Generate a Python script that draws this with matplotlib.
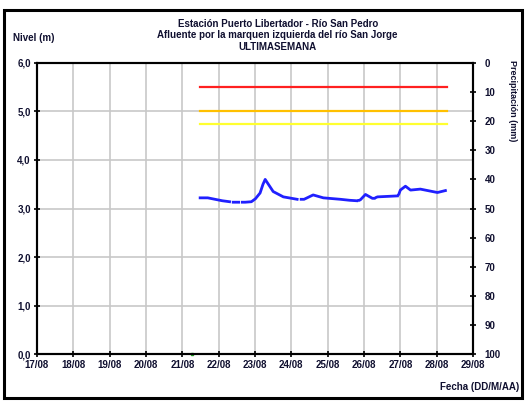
import numpy as np
import matplotlib
matplotlib.use("Agg")
import matplotlib.pyplot as plt
from matplotlib.patches import Rectangle

# Data (days since 17/08 00:00); NaN = missing readings
date_labels = ["17/08", "18/08", "19/08", "20/08", "21/08", "22/08", "23/08",
               "24/08", "25/08", "26/08", "27/08", "28/08", "29/08"]
level_t = [4.49, 4.70, 4.90, 5.10, 5.30, 5.35, 5.40, 5.55, 5.60, 5.65, 5.73, 5.90,
           6.01, 6.14, 6.22, 6.28, 6.35, 6.50, 6.78, 7.16, 7.22, 7.27, 7.35, 7.60,
           7.88, 8.35, 8.60, 8.80, 8.84, 8.87, 8.90, 9.04, 9.23, 9.28, 9.31, 9.34,
           9.37, 9.92, 9.94, 9.96, 10.00, 10.14, 10.28, 10.55, 11.02, 11.24]
level_v = [3.22, 3.22, 3.19, 3.16, 3.14, np.nan, 3.13, 3.13, np.nan, 3.13, 3.13, 3.14,
           3.20, 3.32, 3.50, 3.60, 3.52, 3.35, 3.24, 3.19, np.nan, 3.19, 3.19, 3.28,
           3.22, 3.19, 3.17, 3.16, np.nan, 3.17, 3.18, 3.29, 3.21, 3.21, np.nan, 3.23,
           3.24, 3.26, np.nan, 3.30, 3.38, 3.46, 3.38, 3.40, 3.33, 3.37]
thr_t = [4.49, 11.29]
thr_red = 5.5
thr_orange = 5.0
thr_yellow = 4.75
precip_t = [4.27]
precip_v = [0.0]

plt.rcParams['font.family'] = ['Liberation Sans Narrow', 'Liberation Sans', 'DejaVu Sans']
plt.rcParams['font.weight'] = 'bold'

fig = plt.figure(figsize=(5.26, 4.01), dpi=100)
fig.patches.append(Rectangle((0.008, 0.008), 0.984, 0.968, transform=fig.transFigure,
                             fill=False, edgecolor='black', linewidth=2.2))

ax = fig.add_axes([0.0703, 0.117, 0.829, 0.726])
ax.set_xlim(0, 12)
ax.set_ylim(0, 6)
ax.set_xticks(range(13))
ax.set_xticklabels(date_labels)
ax.set_yticks(range(7))
ax.set_yticklabels([f"{v},0" for v in range(7)])
ax.grid(True, color='#c8c8c8', linewidth=1.2)
ax.set_axisbelow(True)
for s in ax.spines.values():
    s.set_linewidth(1.5)
ax.tick_params(axis='both', labelsize=7, direction='inout', length=5, width=1.2, pad=2,
               colors='black', labelcolor='#101030')

ax.plot(thr_t, [thr_red] * 2, color='#ff2020', linewidth=1.6)
ax.plot(thr_t, [thr_orange] * 2, color='#ffc000', linewidth=1.6)
ax.plot(thr_t, [thr_yellow] * 2, color='#ffff30', linewidth=1.6)
ax.plot(level_t, level_v, color='#2020ff', linewidth=2.0)
ax.plot(precip_t, precip_v, 's', color='#20a020', markersize=2, clip_on=False)

ax2 = ax.twinx()
ax2.set_ylim(100, 0)
ax2.set_yticks(range(0, 101, 10))
ax2.tick_params(axis='y', labelsize=7, direction='inout', length=5, width=1.2, pad=6,
                labelcolor='#101030')
for s in ax2.spines.values():
    s.set_linewidth(1.5)

fig.text(0.528, 0.940, "Estación Puerto Libertador - Río San Pedro", ha='center', va='center',
         fontsize=7, color='#101030')
fig.text(0.528, 0.912, "Afluente por la marquen izquierda del río San Jorge", ha='center',
         va='center', fontsize=7, color='#101030')
fig.text(0.528, 0.882, "ULTIMASEMANA", ha='center', va='center', fontsize=7, color='#101030')
fig.text(0.025, 0.905, "Nivel (m)", ha='left', va='center', fontsize=7, color='#101030')
fig.text(0.988, 0.035, "Fecha (DD/M/AA)", ha='right', va='center', fontsize=7, color='#101030')
fig.text(0.975, 0.85, "Precipitación (mm)", ha='center', va='top', rotation=-90,
         fontsize=6.5, color='#101030')

fig.savefig("out.png", dpi=100)
